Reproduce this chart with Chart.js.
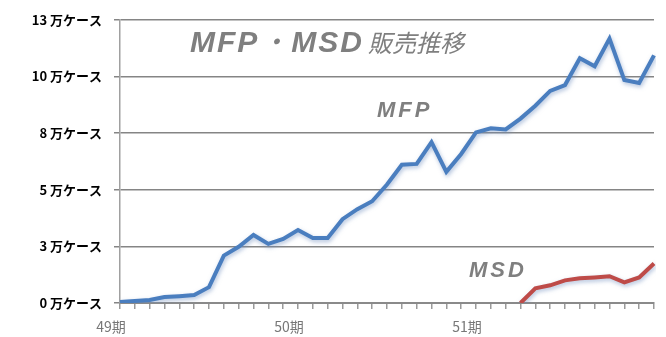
<!DOCTYPE html>
<html>
<head>
<meta charset="utf-8">
<script src="https://cdn.jsdelivr.net/npm/chart.js@4"></script>
<style>
  body { margin: 0; background: #fff; }
  #wrap { position: relative; width: 666px; height: 337px; }
  .note { position: absolute; color: #7f7f7f; white-space: nowrap; }
  #title { left: 190px; top: 22px; }
  #title .en { font: italic bold 30px "Liberation Sans", Arial, sans-serif; letter-spacing: 2px; }
  #title .ja { font: italic 24px "Noto Sans CJK JP", sans-serif; margin-left: 4px; }
  #mfp { left: 377px; top: 97px; font: italic bold 22px "Liberation Sans", Arial, sans-serif; letter-spacing: 3px; }
  #msd { left: 469px; top: 257px; font: italic bold 22px "Liberation Sans", Arial, sans-serif; letter-spacing: 3px; }
</style>
</head>
<body>
<div id="wrap">
  <canvas id="salesChart" width="666" height="337"></canvas>
  <div id="title" class="note"><span class="en">MFP・MSD</span><span class="ja">販売推移</span></div>
  <div id="mfp" class="note">MFP</div>
  <div id="msd" class="note">MSD</div>
</div>
<script>
// 37 months, 49期 start to end of 51期
const periods = ['49期', '50期', '51期', ''];
const months = Array.from({ length: 37 }, (_, i) => i % 12 === 0 ? periods[i / 12] : '');

const mfpCases = [400, 900, 1300, 2600, 3000, 3500, 7000, 20900, 24800, 30000,
  26100, 28300, 32200, 28700, 28700, 37000, 41400, 44900, 52300, 61000,
  61400, 71000, 57900, 65800, 75300, 77100, 76600, 81400, 87100, 93600,
  96200, 108000, 104500, 116700, 98400, 97100, 109300];

const msdCases = [null, null, null, null, null, null, null, null, null, null,
  null, null, null, null, null, null, null, null, null, null,
  null, null, null, null, null, null, null, 0, 6500, 7800,
  10000, 10900, 11300, 11800, 9100, 11300, 17400];

const yTickLabels = ['0 万ケース', '3 万ケース', '5 万ケース', '8 万ケース', '10 万ケース', '13 万ケース'];

const lineShadow = {
  id: 'lineShadow',
  beforeDatasetsDraw(chart) {
    const ctx = chart.ctx;
    ctx.save();
    ctx.shadowColor = 'rgba(110,140,190,0.55)';
    ctx.shadowBlur = 4;
    ctx.shadowOffsetX = 1;
    ctx.shadowOffsetY = 2;
  },
  afterDatasetsDraw(chart) {
    chart.ctx.restore();
  }
};

const ctx = document.getElementById('salesChart').getContext('2d');
const chart = new Chart(ctx, {
  type: 'line',
  data: {
    labels: months,
    datasets: [{
      label: 'MFP',
      data: mfpCases,
      borderColor: '#4a7ebf',
      borderWidth: 4,
      pointRadius: 0,
      tension: 0
    }, {
      label: 'MSD',
      data: msdCases,
      borderColor: '#be4b48',
      borderWidth: 4,
      pointRadius: 0,
      tension: 0
    }]
  },
  options: {
    responsive: false,
    animation: false,
    layout: { padding: { top: 16, right: 12, left: 0, bottom: 0 } },
    plugins: { legend: { display: false }, tooltip: { enabled: false } },
    scales: {
      x: {
        offset: false,
        afterFit: scale => { scale.height = 34; },
        grid: { drawOnChartArea: false, drawTicks: true, tickLength: 6, color: '#9a9a9a', lineWidth: 1.5 },
        border: { color: '#8a8a8a', width: 2 },
        ticks: {
          autoSkip: false,
          maxRotation: 0,
          padding: 9,
          labelOffset: -9,
          color: '#777',
          font: { family: '"Noto Sans CJK JP", sans-serif', size: 14 }
        }
      },
      y: {
        min: 0,
        max: 125000,
        afterFit: scale => { scale.width = 120; },
        grid: { color: '#858585', lineWidth: 1.5, tickLength: 6 },
        border: { color: '#a0a0a0', width: 1.5 },
        ticks: {
          stepSize: 25000,
          padding: 12,
          color: '#000',
          font: { family: '"Noto Sans CJK JP", sans-serif', size: 13, weight: 'bold' },
          callback: (value, index) => yTickLabels[index]
        }
      }
    }
  },
  plugins: [lineShadow]
});
</script>
</body>
</html>
